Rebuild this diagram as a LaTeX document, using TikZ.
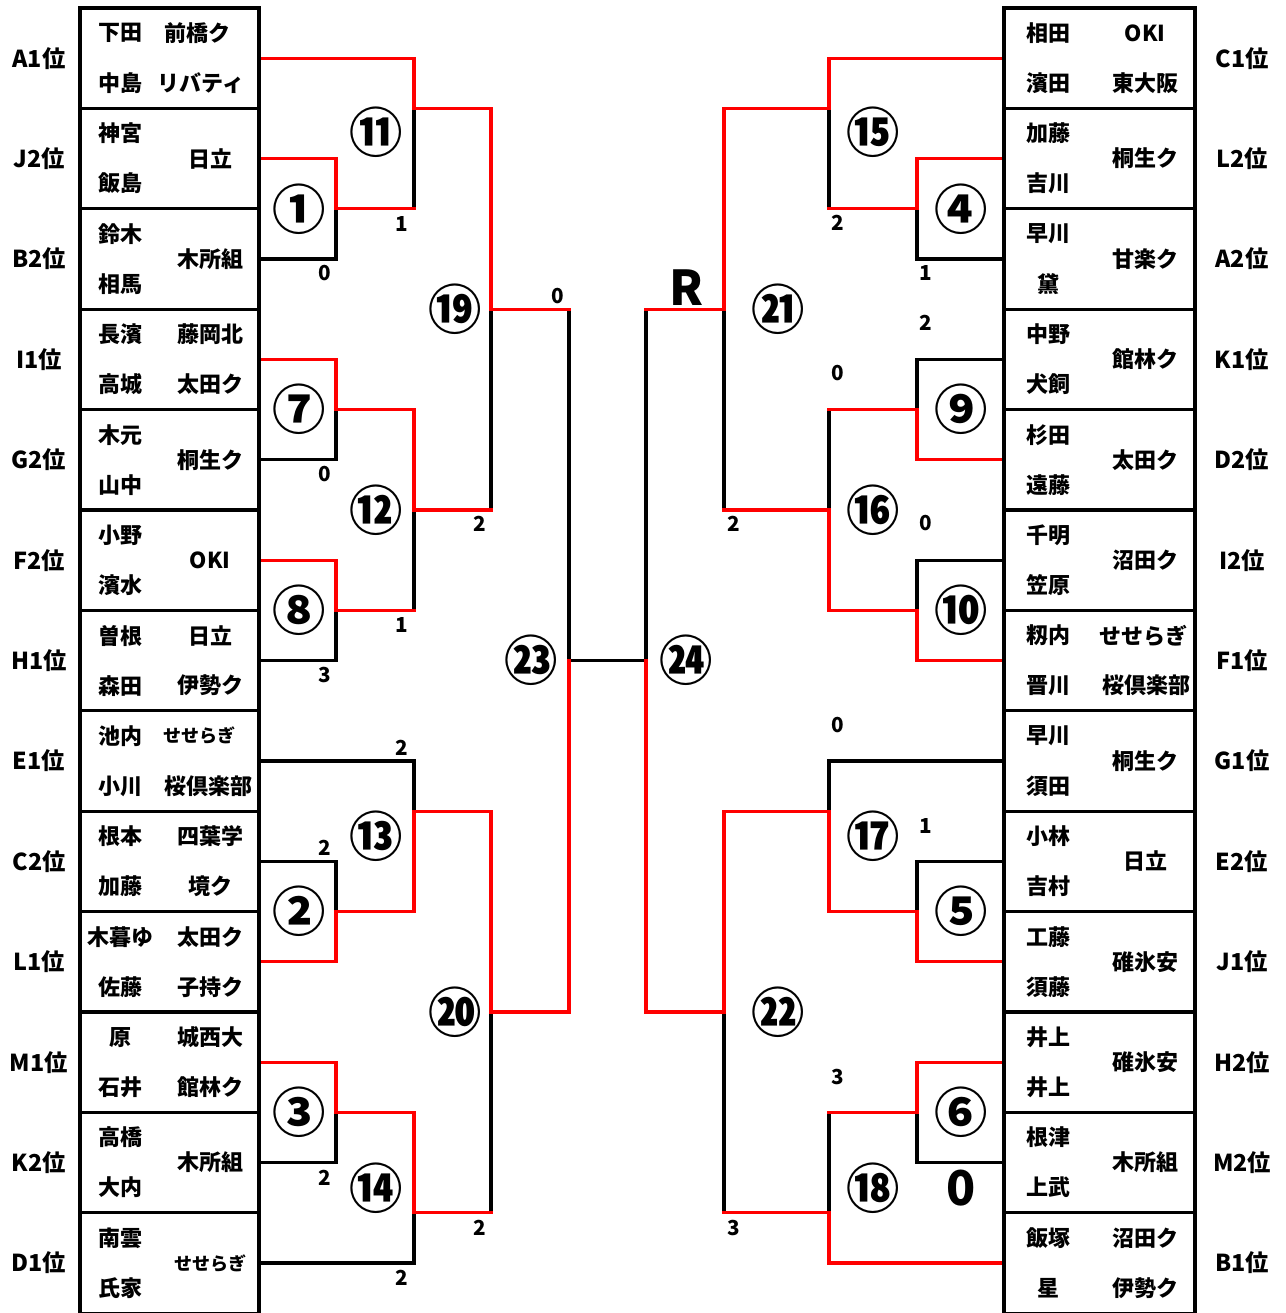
\documentclass[tikz,border=0pt]{standalone}
\usepackage{fontspec}
\setmainfont{Noto Sans CJK JP}
\newcommand\teamfont{\fontsize{16.5pt}{18pt}\selectfont\bfseries}
\newcommand\kanafont{\fontsize{13.5pt}{15pt}\selectfont\bfseries}
\newcommand\rankfont{\fontsize{17.5pt}{18pt}\selectfont\bfseries}
\newcommand\matchfont{\fontsize{40pt}{40pt}\selectfont\bfseries}
\newcommand\scorefont{\fontsize{15.5pt}{16pt}\selectfont\bfseries}
\newcommand\bigscorefont{\fontsize{36pt}{36pt}\selectfont\bfseries}
\begin{document}
\begin{tikzpicture}[x=0.75pt,y=-0.75pt,line width=2.3pt,line cap=rect,
  lose/.style={draw=black},
  win/.style={draw=red},
  rank/.style={inner sep=0pt,font=\rankfont},
  player/.style={inner sep=0pt,font=\teamfont},
  club/.style={inner sep=0pt,font=\teamfont},
  kana/.style={inner sep=0pt,font=\kanafont},
  match/.style={inner sep=0pt,font=\matchfont},
  score/.style={inner sep=0pt,font=\scorefont}]
  \useasboundingbox (0,0) rectangle (1285,1313);
  % helper grid: comment for final drawing
  % \draw[help lines,step=50] (0,0) grid (1285,1313);

  % left half, losing lines
  \draw[lose] (336,208.8) -- (336,259) -- (259,259);
  \draw[lose] (414,108.4) -- (414,208.8);
  \draw[lose] (336,409.6) -- (336,459.8) -- (259,459.8);
  \draw[lose] (336,610.4) -- (336,660.6) -- (259,660.6);
  \draw[lose] (414,510) -- (414,610.4);
  \draw[lose] (491,309.2) -- (491,510);
  \draw[lose] (259,761) -- (414,761) -- (414,811.2);
  \draw[lose] (259,861.4) -- (336,861.4) -- (336,911.6);
  \draw[lose] (336,1112.4) -- (336,1162.6) -- (259,1162.6);
  \draw[lose] (414,1212.8) -- (414,1263) -- (259,1263);
  \draw[lose] (491,1012) -- (491,1212.8);
  \draw[lose] (569,309.2) -- (569,660.6) -- (646,660.6) -- (646,309.2);
  % left half, winning lines
  \draw[win] (259,158.6) -- (336,158.6) -- (336,208.8) -- (414,208.8);
  \draw[win] (259,58.2) -- (414,58.2) -- (414,108.4) -- (491,108.4) -- (491,309.2) -- (569,309.2);
  \draw[win] (259,359.4) -- (336,359.4) -- (336,409.6) -- (414,409.6) -- (414,510) -- (491,510);
  \draw[win] (259,560.2) -- (336,560.2) -- (336,610.4) -- (414,610.4);
  \draw[win] (259,961.8) -- (336,961.8) -- (336,911.6) -- (414,911.6) -- (414,811.2) -- (491,811.2)
    -- (491,1012) -- (569,1012) -- (569,660.6);
  \draw[win] (259,1062.2) -- (336,1062.2) -- (336,1112.4) -- (414,1112.4) -- (414,1212.8) -- (491,1212.8);

  % right half, losing lines
  \draw[lose] (724,309.2) -- (724,510);
  \draw[lose] (829,108.4) -- (829,208.8);
  \draw[lose] (917,208.8) -- (917,259) -- (1004,259);
  \draw[lose] (1004,359.4) -- (917,359.4) -- (917,409.6);
  \draw[lose] (829,409.6) -- (829,510);
  \draw[lose] (1004,560.2) -- (917,560.2) -- (917,610.4);
  \draw[lose] (724,1012) -- (724,1212.8);
  \draw[lose] (1004,761) -- (829,761) -- (829,811.2);
  \draw[lose] (1004,861.4) -- (917,861.4) -- (917,911.6);
  \draw[lose] (917,1112.4) -- (917,1162.6) -- (1004,1162.6);
  \draw[lose] (829,1112.4) -- (829,1212.8);
  % right half, winning lines
  \draw[win] (1004,58.2) -- (829,58.2) -- (829,108.4) -- (724,108.4) -- (724,309.2) -- (646,309.2);
  \draw[win] (1004,158.6) -- (917,158.6) -- (917,208.8) -- (829,208.8);
  \draw[win] (1004,459.8) -- (917,459.8) -- (917,409.6) -- (829,409.6);
  \draw[win] (1004,660.6) -- (917,660.6) -- (917,610.4) -- (829,610.4) -- (829,510) -- (724,510);
  \draw[win] (1004,961.8) -- (917,961.8) -- (917,911.6) -- (829,911.6) -- (829,811.2) -- (724,811.2)
    -- (724,1012) -- (646,1012) -- (646,660.6);
  \draw[win] (1004,1062.2) -- (917,1062.2) -- (917,1112.4) -- (829,1112.4);
  \draw[win] (1004,1263) -- (829,1263) -- (829,1212.8) -- (724,1212.8);

  % team boxes
  \draw (80,8) rectangle (259,1313.2);
  \draw (1004,8) rectangle (1195,1313.2);
  \foreach \y in {108.4,208.8,309.2,409.6,510,610.4,710.8,811.2,911.6,1012,1112.4,1212.8}
  {
    \draw (80,\y) -- (259,\y);
    \draw (1004,\y) -- (1195,\y);
  }

  % left teams
  \foreach \r/\y/\rk/\na/\nb in {1/58.2/A1位/下田/中島, 2/158.6/J2位/神宮/飯島,
      3/259/B2位/鈴木/相馬, 4/359.4/I1位/長濱/高城, 5/459.8/G2位/木元/山中,
      6/560.2/F2位/小野/濱水, 7/660.6/H1位/曽根/森田, 8/761/E1位/池内/小川,
      9/861.4/C2位/根本/加藤, 10/961.8/L1位/木暮ゆ/佐藤, 11/1062.2/M1位/原/石井,
      12/1162.6/K2位/高橋/大内, 13/1263/D1位/南雲/氏家}
  {
    \node[rank] (lrk\r) at (39,\y) {\rk};
    \node[player] (lpa\r) at (120,\y-25) {\na};
    \node[player] (lpb\r) at (120,\y+25) {\nb};
  }
  \foreach \x/\y/\cl [count=\i] in {197/33.2/前橋ク, 201/83.2/リバティ, 210/158.6/日立,
      210/259/木所組, 210/334.4/藤岡北, 210/384.4/太田ク, 210/459.8/桐生ク,
      210/560.2/OKI, 210/635.6/日立, 210/685.6/伊勢ク, 208/786/桜倶楽部,
      210/836.4/四葉学, 210/886.4/境ク, 210/936.8/太田ク, 210/986.8/子持ク,
      210/1037.2/城西大, 210/1087.2/館林ク, 210/1162.6/木所組}
    \node[club] (lcl\i) at (\x,\y) {\cl};
  \node[kana] (lkn1) at (199,736) {せせらぎ};
  \node[kana] (lkn2) at (210,1263) {せせらぎ};

  % right teams
  \foreach \r/\y/\rk/\na/\nb in {1/58.2/C1位/相田/濱田, 2/158.6/L2位/加藤/吉川,
      3/259/A2位/早川/黛, 4/359.4/K1位/中野/犬飼, 5/459.8/D2位/杉田/遠藤,
      6/560.2/I2位/千明/笠原, 7/660.6/F1位/籾内/晋川, 8/761/G1位/早川/須田,
      9/861.4/E2位/小林/吉村, 10/961.8/J1位/工藤/須藤, 11/1062.2/H2位/井上/井上,
      12/1162.6/M2位/根津/上武, 13/1263/B1位/飯塚/星}
  {
    \node[rank] (rrk\r) at (1242,\y) {\rk};
    \node[player] (rpa\r) at (1048,\y-25) {\na};
    \node[player] (rpb\r) at (1048,\y+25) {\nb};
  }
  \foreach \x/\y/\cl [count=\i] in {1145/33.2/OKI, 1145/83.2/東大阪, 1145/158.6/桐生ク,
      1145/259/甘楽ク, 1145/359.4/館林ク, 1145/459.8/太田ク, 1145/560.2/沼田ク,
      1143/635.6/せせらぎ, 1146/685.6/桜倶楽部, 1145/761/桐生ク, 1145/861.4/日立,
      1145/961.8/碓氷安, 1145/1062.2/碓氷安, 1145/1162.6/木所組,
      1145/1238/沼田ク, 1145/1288/伊勢ク}
    \node[club] (rcl\i) at (\x,\y) {\cl};

  % match numbers
  \node[match] (m1)  at (299,208.8)  {①};
  \node[match] (m2)  at (299,911.6)  {②};
  \node[match] (m3)  at (299,1112.4) {③};
  \node[match] (m4)  at (961,208.8)  {④};
  \node[match] (m5)  at (961,911.6)  {⑤};
  \node[match] (m6)  at (961,1112.4) {⑥};
  \node[match] (m7)  at (299,409.6)  {⑦};
  \node[match] (m8)  at (299,610.4)  {⑧};
  \node[match] (m9)  at (961,409.6)  {⑨};
  \node[match] (m10) at (961,610.4)  {⑩};
  \node[match] (m11) at (376,132)    {⑪};
  \node[match] (m12) at (376,510)    {⑫};
  \node[match] (m13) at (376,836)    {⑬};
  \node[match] (m14) at (376,1188)   {⑭};
  \node[match] (m15) at (873,132)    {⑮};
  \node[match] (m16) at (873,510)    {⑯};
  \node[match] (m17) at (873,836)    {⑰};
  \node[match] (m18) at (873,1188)   {⑱};
  \node[match] (m19) at (455,309.2)  {⑲};
  \node[match] (m20) at (455,1012)   {⑳};
  \node[match] (m21) at (778,309.2)  {㉑};
  \node[match] (m22) at (778,1012)   {㉒};
  \node[match] (m23) at (531,660.6)  {㉓};
  \node[match] (m24) at (686,660.6)  {㉔};
  \node[inner sep=0pt,font=\bigscorefont] (rep) at (686,288) {R};

  % scores
  \foreach \x/\y/\s [count=\i] in {325/273/0, 402/224/1, 558/296/0, 325/474/0, 480/524/2,
      402/625/1, 325/675/3, 402/748/2, 325/848/2, 325/1178/2, 480/1228/2, 402/1278/2,
      838/223/2, 926/273/1, 926/323/2, 838/373/0, 734/524/2, 926/523/0, 838/725/0,
      926/826/1, 838/1077/3, 734/1228/3}
    \node[score] (sc\i) at (\x,\y) {\s};
  \node[inner sep=0pt,font=\bigscorefont] (scbig) at (961,1188) {0};
\end{tikzpicture}
\end{document}
